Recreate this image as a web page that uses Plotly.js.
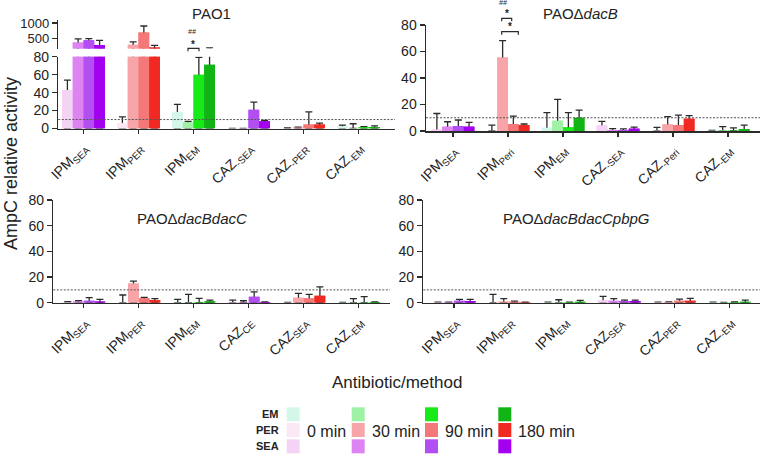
<!DOCTYPE html>
<html>
<head>
<meta charset="utf-8">
<script src="https://cdn.plot.ly/plotly-3.0.1.min.js"></script>
<style>html,body{margin:0;padding:0;background:#fff}#chart{width:763px;height:458px}</style>
</head>
<body>
<div id="chart"></div>
<script>
// ---------- DATA ----------
const TIMES = ['0 min', '30 min', '90 min', '180 min'];
const METHODS = ['EM', 'PER', 'SEA'];
const COLORS = {
  SEA: ['#f5d3f5', '#de84f2', '#b24ef2', '#a200ee'],
  PER: ['#fce8f4', '#f7a5a8', '#f57878', '#f02a22'],
  EM:  ['#d4f7ea', '#9ff2a5', '#18ea18', '#10b414']
};

// Panel 1: PAO1
const P1_TITLE = 'PAO1';
const P1_CATS = ['IPM<sub>SEA</sub>', 'IPM<sub>PER</sub>', 'IPM<sub>EM</sub>', 'CAZ<sub>-SEA</sub>', 'CAZ<sub>-PER</sub>', 'CAZ<sub>-EM</sub>'];
const P1_METHOD = ['SEA', 'PER', 'EM', 'SEA', 'PER', 'EM'];
const P1_0   = [43, 6, 18.5, 0.2, 0.3, 2.5];
const P1_0E  = [11, 7, 8.5, 0, 0.4, 1.2];
const P1_30  = [370, 303, 7, 0.2, 1, 0.5];
const P1_30E = [120, 94, 1, 0, 0.6, 4.8];
const P1_90  = [450, 697, 60, 21, 4.5, 1.5];
const P1_90E = [50, 210, 19.5, 8.5, 14, 0.6];
const P1_180  = [295, 209, 71, 8, 4.5, 1.5];
const P1_180E = [150, 70, 129, 1, 1.5, 1.5];

// Panel 2: PAOΔdacB
const P2_TITLE = 'PAOΔ<i>dacB</i>';
const P2_CATS = ['IPM<sub>SEA</sub>', 'IPM<sub>Peri</sub>', 'IPM<sub>EM</sub>', 'CAZ<sub>-SEA</sub>', 'CAZ<sub>-Peri</sub>', 'CAZ<sub>-EM</sub>'];
const P2_METHOD = ['SEA', 'PER', 'EM', 'SEA', 'PER', 'EM'];
const P2_0   = [1.2, 0.2, 2.5, 4.3, 0.3, 0.3];
const P2_0E  = [12, 4.3, 11.3, 3, 2.5, 0.2];
const P2_30  = [3.3, 55.5, 7.8, 0.8, 5, 0.5];
const P2_30E = [3.7, 12.7, 16, 1, 5.8, 2.8];
const P2_90  = [3.8, 5.3, 2.8, 0.8, 4.5, 0.3];
const P2_90E = [4.5, 6, 11, 0.8, 7.5, 2];
const P2_180  = [3.3, 4.5, 10, 1.8, 9.3, 1.5];
const P2_180E = [3.2, 0.8, 5.8, 1.2, 2.3, 3];

// Panel 3: PAOΔdacBdacC
const P3_TITLE = 'PAOΔ<i>dacBdacC</i>';
const P3_CATS = ['IPM<sub>SEA</sub>', 'IPM<sub>PER</sub>', 'IPM<sub>EM</sub>', 'CAZ<sub>CE</sub>', 'CAZ<sub>SEA</sub>', 'CAZ<sub>-EM</sub>'];
const P3_METHOD = ['SEA', 'PER', 'EM', 'SEA', 'PER', 'EM'];
const P3_0   = [0.5, 0.2, 0.2, 0.3, 0.2, 0.2];
const P3_0E  = [0.3, 5.8, 2.4, 1.7, 0.1, 0.1];
const P3_30  = [1, 15, 0.2, 0.3, 3.9, 0.2];
const P3_30E = [0.5, 1.8, 6.3, 1.2, 3.3, 2.9];
const P3_90  = [1.5, 3.4, 0.3, 4.7, 3.4, 0.2];
const P3_90E = [2.5, 0.7, 3.1, 3.8, 3.1, 4.5];
const P3_180  = [1, 2, 1.2, 0.5, 5.4, 0.5];
const P3_180E = [1.6, 1.1, 0.8, 0.1, 7, 0.1];

// Panel 4: PAOΔdacBdacCpbpG
const P4_TITLE = 'PAOΔ<i>dacBdacCpbpG</i>';
const P4_CATS = ['IPM<sub>SEA</sub>', 'IPM<sub>PER</sub>', 'IPM<sub>EM</sub>', 'CAZ<sub>SEA</sub>', 'CAZ<sub>PER</sub>', 'CAZ<sub>-EM</sub>'];
const P4_METHOD = ['SEA', 'PER', 'EM', 'SEA', 'PER', 'EM'];
const P4_0   = [0.3, 0.2, 0.3, 2, 0.3, 0.3];
const P4_0E  = [0.2, 6.3, 0.2, 2.9, 0.2, 0.2];
const P4_30  = [0.3, 1, 0.3, 1.5, 0.5, 0.2];
const P4_30E = [0.2, 2.1, 2, 1.6, 0.2, 0.1];
const P4_90  = [1.5, 0.8, 0.3, 1.3, 1.5, 0.3];
const P4_90E = [1.1, 0.5, 0.2, 0.7, 1.3, 0.3];
const P4_180  = [1.3, 0.3, 0.8, 1.3, 1.5, 0.8];
const P4_180E = [1.3, 0.1, 1, 0.7, 1.9, 1.2];

const THRESHOLD = 10;
const Y_TITLE = 'AmpC relative activity';
const X_TITLE = 'Antibiotic/method';

// ---------- BUILD ----------
const W = 763, H = 458;
const X = p => p / W;
const Y = p => 1 - p / H;
const FONT = 'Liberation Sans, Arial, sans-serif';
const INK = '#2b2b2b';

const traces = [];
function addPanel(xa, ya, cats, methods, vals, errs) {
  for (let t = 0; t < 4; t++) {
    traces.push({
      type: 'bar', x: cats, y: vals[t], xaxis: xa, yaxis: ya, name: TIMES[t],
      offsetgroup: 'g' + t,
      marker: {color: methods.map(m => COLORS[m][t]), line: {width: 0}},
      error_y: {type: 'data', symmetric: false, array: errs[t], arrayminus: vals[t],
                color: INK, thickness: 1.3, width: 3.5},
      hoverinfo: 'skip', showlegend: false
    });
  }
  for (let t = 0; t < 4; t++) {
    traces.push({
      type: 'bar', x: cats, y: vals[t], xaxis: xa, yaxis: ya, name: TIMES[t],
      offsetgroup: 'g' + t,
      marker: {color: methods.map(m => COLORS[m][t]), line: {width: 0}},
      hoverinfo: 'skip', showlegend: false
    });
  }
}
addPanel('x', 'y', P1_CATS, P1_METHOD, [P1_0, P1_30, P1_90, P1_180], [P1_0E, P1_30E, P1_90E, P1_180E]);
addPanel('x5', 'y5', P1_CATS, P1_METHOD, [P1_0, P1_30, P1_90, P1_180], [P1_0E, P1_30E, P1_90E, P1_180E]);
addPanel('x2', 'y2', P2_CATS, P2_METHOD, [P2_0, P2_30, P2_90, P2_180], [P2_0E, P2_30E, P2_90E, P2_180E]);
addPanel('x3', 'y3', P3_CATS, P3_METHOD, [P3_0, P3_30, P3_90, P3_180], [P3_0E, P3_30E, P3_90E, P3_180E]);
addPanel('x4', 'y4', P4_CATS, P4_METHOD, [P4_0, P4_30, P4_90, P4_180], [P4_0E, P4_30E, P4_90E, P4_180E]);

function xAxis(d0, d1, r0, r1, anchor, visible) {
  return {
    domain: [X(d0), X(d1)], range: [r0, r1], anchor: anchor, type: 'category', visible: visible,
    showline: true, linecolor: INK, linewidth: 1.5, ticks: 'outside', ticklen: 4, tickwidth: 1.3,
    tickcolor: INK, tickangle: -45, tickfont: {family: FONT, size: 14, color: '#222'},
    showgrid: false, zeroline: false, fixedrange: true
  };
}
function yAxis(p0, p1, r0, r1, vals, anchor, fs) {
  return {
    domain: [Y(p0), Y(p1)], range: [r0, r1], anchor: anchor, tickvals: vals,
    showline: true, linecolor: INK, linewidth: 1.5, ticks: 'outside', ticklen: 5, tickwidth: 1.3,
    tickcolor: INK, tickfont: {family: FONT, size: fs || 14, color: '#222'},
    showgrid: false, zeroline: false, fixedrange: true
  };
}

const shapes = [];
const annotations = [];
function hline(xref, yref) {
  shapes.push({type: 'line', xref: xref + ' domain', yref: yref, x0: 0, x1: 1,
               y0: THRESHOLD, y1: THRESHOLD, line: {color: '#555', width: 1, dash: '2px,1.5px'}});
}
hline('x', 'y'); hline('x2', 'y2'); hline('x3', 'y3'); hline('x4', 'y4');

function txt(x, y, text, size, opts) {
  annotations.push(Object.assign({xref: 'paper', yref: 'paper', x: X(x), y: Y(y), text: text,
    showarrow: false, font: {family: FONT, size: size, color: '#222'}, xanchor: 'center', yanchor: 'middle',
    borderpad: 0}, opts || {}));
}
function bracket(x0, x1, y) {
  shapes.push({type: 'path', xref: 'paper', yref: 'paper',
    path: `M ${X(x0)} ${Y(y + 3)} L ${X(x0)} ${Y(y)} L ${X(x1)} ${Y(y)} L ${X(x1)} ${Y(y + 3)}`,
    line: {color: INK, width: 1.2}});
}

// titles
txt(211, 13, P1_TITLE, 15);
txt(580, 14, P2_TITLE, 15);
txt(192, 218, P3_TITLE, 15);
txt(576, 218, P4_TITLE, 15);
txt(11, 164, Y_TITLE, 18, {textangle: -90});
txt(397, 382, X_TITLE, 17);

// significance marks
txt(192, 32, '<i>##</i>', 7);
txt(193, 44, '<b>*</b>', 10);
bracket(188, 199, 48.3);
txt(503, 3, '<i>##</i>', 7);
txt(506.5, 14, '<b>*</b>', 10);
bracket(501.7, 511.7, 18.3);
txt(510, 27, '<b>*</b>', 10);
bracket(501.7, 518.3, 31.7);

// legend grid
const LEG_COLS = [286.7, 351.7, 425, 498.3];
const LEG_ROWS = [407.3, 423, 439.3];
METHODS.forEach((m, r) => {
  TIMES.forEach((tm, c) => {
    shapes.push({type: 'rect', xref: 'paper', yref: 'paper', x0: X(LEG_COLS[c]), x1: X(LEG_COLS[c] + 13),
      y0: Y(LEG_ROWS[r] + 14), y1: Y(LEG_ROWS[r]), fillcolor: COLORS[m][c], line: {width: 0}});
  });
  txt(280, LEG_ROWS[r] + 7, '<b>' + m + '</b>', 11, {xanchor: 'right'});
});
TIMES.forEach((tm, c) => txt(LEG_COLS[c] + 19, 431, tm, 16, {xanchor: 'left'}));

const layout = {
  width: W, height: H, margin: {l: 0, r: 0, t: 0, b: 0},
  paper_bgcolor: '#fff', plot_bgcolor: 'rgba(0,0,0,0)',
  barmode: 'group', bargap: 0.22, bargroupgap: 0, showlegend: false,
  font: {family: FONT},
  xaxis:  xAxis(58.3, 395, -0.458, 5.664, 'y', true),
  yaxis:  yAxis(128.5, 56.8, 0, 80, [0, 20, 40, 60, 80], 'x'),
  xaxis5: xAxis(58.3, 395, -0.458, 5.664, 'y5', false),
  yaxis5: yAxis(48.5, 20, 180, 1100, [500, 1000], 'x5', 13),
  xaxis2: xAxis(426, 760, -0.49, 5.58, 'y2', true),
  yaxis2: yAxis(131, 25, 0, 80, [0, 20, 40, 60, 80], 'x2'),
  xaxis3: xAxis(53.3, 390, -0.555, 5.567, 'y3', true),
  yaxis3: yAxis(302.7, 200, 0, 80, [0, 20, 40, 60, 80], 'x3'),
  xaxis4: xAxis(423.3, 760, -0.56, 5.56, 'y4', true),
  yaxis4: yAxis(302.7, 200, 0, 80, [0, 20, 40, 60, 80], 'x4'),
  shapes: shapes, annotations: annotations
};

Plotly.newPlot('chart', traces, layout, {displayModeBar: false, staticPlot: true});
</script>
</body>
</html>
